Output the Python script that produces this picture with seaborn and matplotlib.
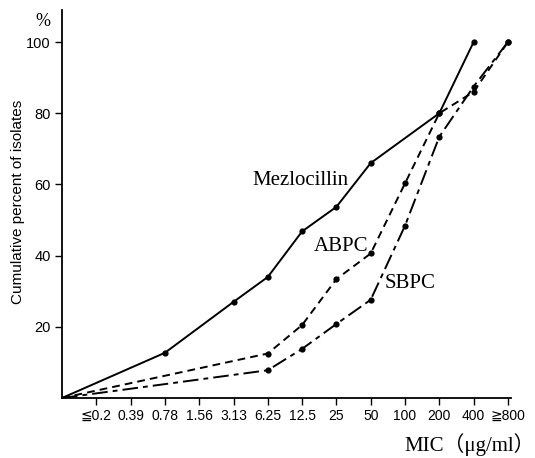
import seaborn as sns
import pandas as pd
import matplotlib.pyplot as plt

# MIC steps (position 0 is the origin)
mic_labels = ["", "≦0.2", "0.39", "0.78", "1.56", "3.13", "6.25", "12.5",
              "25", "50", "100", "200", "400", "≧800"]

mezlo_pos = [0, 3, 5, 6, 7, 8, 9, 11, 12]
mezlo_pct = [0, 12.7, 27, 34, 46.8, 53.7, 66, 80, 100]

abpc_pos = [0, 6, 7, 8, 9, 10, 11, 12, 13]
abpc_pct = [0, 12.5, 20.5, 33.4, 40.6, 60.3, 80, 86, 100]

sbpc_pos = [0, 6, 7, 8, 9, 10, 11, 12, 13]
sbpc_pct = [0, 7.8, 13.8, 20.8, 27.6, 48.4, 73.4, 87.5, 100]

sns.set_style("ticks")
tick_font = ["Liberation Sans", "DejaVu Sans"]
serif_font = ["Liberation Serif", "Noto Sans CJK JP", "DejaVu Sans"]
plt.rcParams["font.family"] = tick_font
plt.rcParams["text.color"] = "black"
plt.rcParams["xtick.color"] = "black"
plt.rcParams["ytick.color"] = "black"

fig = plt.figure(figsize=(5.35, 4.58), dpi=100)
ax = fig.add_axes([62 / 535, 1 - 398 / 458, (511 - 62) / 535, (398 - 10) / 458])

series = [
    (mezlo_pos, mezlo_pct, "-"),
    (abpc_pos, abpc_pct, (0, (4, 2.6))),
    (sbpc_pos, sbpc_pct, (0, (8, 2.6, 2.5, 2.6))),
]
for pos, pct, ls in series:
    df = pd.DataFrame({"pos": pos, "pct": pct})
    sns.lineplot(data=df, x="pos", y="pct", ax=ax, color="black", lw=1.4,
                 linestyle=ls, sort=False, marker="o", markersize=4.5,
                 markevery=list(range(1, len(pos))), markeredgewidth=0)

ax.set_xlim(0, 13.09)
ax.set_ylim(0, 109)
ax.set_xticks(range(1, len(mic_labels)))
ax.set_xticklabels(mic_labels[1:], fontsize=10, family=tick_font)
ax.set_yticks([20, 40, 60, 80, 100])
ax.set_yticklabels(["20", "40", "60", "80", "100"], fontsize=10.5, family=tick_font)
ax.tick_params(direction="out", length=5, width=1, colors="black", pad=3)
for side in ["top", "right"]:
    ax.spines[side].set_visible(False)
for side in ["left", "bottom"]:
    ax.spines[side].set_linewidth(1.3)
    ax.spines[side].set_color("black")
ax.set_xlabel("")
ax.set_ylabel("")

ax.text(5.54, 61.2, "Mezlocillin", fontsize=15, family=serif_font, va="center")
ax.text(7.35, 42.5, "ABPC", fontsize=15, family=serif_font, va="center")
ax.text(9.4, 32.2, "SBPC", fontsize=15, family=serif_font, va="center")

fig.text(43 / 535, 1 - 21 / 458, "%", fontsize=13, family=serif_font,
         ha="center", va="center")
fig.text(18 / 535, 1 - 202 / 458, "Cumulative percent of isolates", fontsize=11,
         family=tick_font, rotation=90, ha="center", va="center")
fig.text(535 / 535, 1 - 445 / 458, "MIC（μg/ml）", fontsize=15,
         family=serif_font, ha="right", va="center")

fig.savefig("out.png", dpi=100)
